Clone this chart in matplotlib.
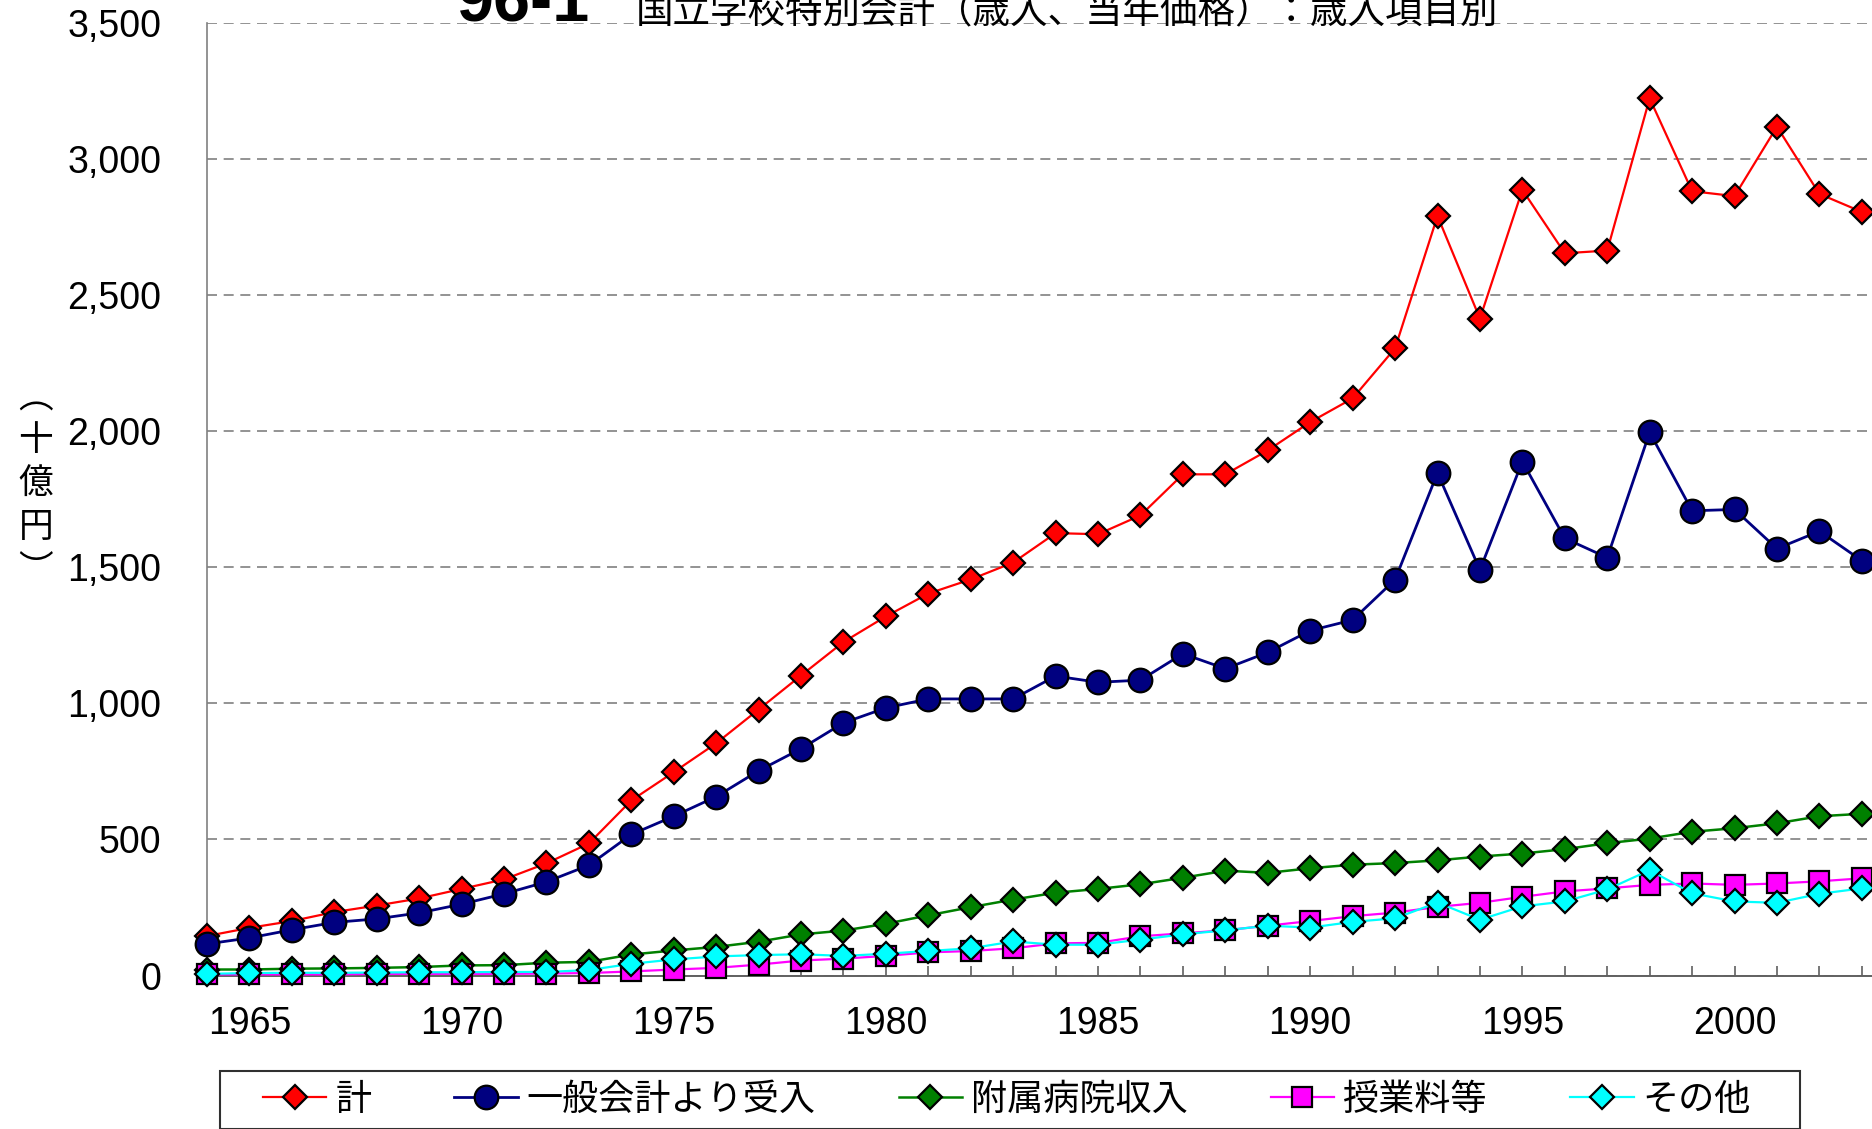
import matplotlib
matplotlib.use("Agg")
import matplotlib.pyplot as plt
from matplotlib.ticker import FuncFormatter, MultipleLocator, FixedLocator
from matplotlib.patches import Rectangle

years = list(range(1964, 2004))
total = [145, 175, 200, 233, 257, 283, 318, 353, 412, 485, 643, 747, 853, 977, 1102, 1225, 1319, 1403, 1455, 1517,
         1625, 1621, 1690, 1841, 1841, 1929, 2033, 2120, 2304, 2790, 2413, 2886, 2653, 2663, 3222, 2881, 2863, 3118, 2871, 2805]
general = [116, 138, 168, 195, 208, 230, 262, 300, 344, 405, 518, 585, 657, 752, 833, 928, 983, 1016, 1016, 1016,
           1100, 1077, 1085, 1182, 1127, 1187, 1267, 1306, 1454, 1846, 1490, 1888, 1606, 1535, 1995, 1707, 1712, 1568, 1632, 1524]
hospital = [22, 22, 25, 26, 28, 31, 37, 38, 47, 50, 77, 92, 105, 124, 151, 165, 190, 221, 251, 279,
            304, 318, 335, 359, 385, 377, 394, 407, 413, 423, 437, 448, 464, 486, 503, 528, 541, 559, 585, 594]
tuition = [4, 4, 4, 4, 6, 6, 6, 6, 7, 9, 15, 22, 28, 40, 55, 62, 72, 85, 90, 100,
           118, 120, 144, 155, 166, 183, 200, 218, 231, 252, 267, 289, 309, 320, 333, 338, 333, 338, 346, 357]
other = [6, 9, 10, 10, 11, 12, 12, 13, 13, 20, 43, 59, 70, 75, 78, 72, 80, 90, 100, 125,
         113, 113, 132, 151, 166, 183, 176, 197, 210, 268, 205, 254, 272, 316, 387, 302, 272, 267, 300, 320]

labels = ["計", "一般会計より受入", "附属病院収入", "授業料等", "その他"]
title_num = "96-1"
title_text = "国立学校特別会計（歳入、当年価格）：歳入項目別"
ylabel = "︵\n十\n億\n円\n︶"
xtick_years = [1965, 1970, 1975, 1980, 1985, 1990, 1995, 2000]

plt.rcParams['font.family'] = ['Liberation Sans', 'Noto Sans CJK JP', 'DejaVu Sans']
cjk = ['Noto Sans CJK JP', 'DejaVu Sans']
narrow = ['Liberation Sans Narrow', 'Liberation Sans', 'DejaVu Sans']

W, H = 1872, 1129
fig = plt.figure(figsize=(W / 100, H / 100), dpi=100)
ax = fig.add_axes([207 / W, 1 - 975.5 / H, 1 - 207 / W, (975.5 - 22.7) / H])

series = [
    (total, "#FF0000", "D", 12, 1.6),
    (general, "#000080", "o", 17, 2.0),
    (hospital, "#008000", "D", 12, 1.8),
    (tuition, "#FF00FF", "s", 14, 1.6),
    (other, "#00FFFF", "D", 12, 1.6),
]
for (vals, col, mk, ms, lw), lab in zip(series, labels):
    ax.plot(years, vals, color=col, lw=lw, marker=mk, markersize=ms,
            markerfacecolor=col, markeredgecolor="black", markeredgewidth=1.6,
            clip_on=False, label=lab, zorder=3)

ax.set_xlim(1964, 2003.24)
ax.set_ylim(0, 3500)
ax.yaxis.set_major_locator(MultipleLocator(500))
ax.yaxis.set_major_formatter(FuncFormatter(lambda v, p: f"{int(v):,}"))
ax.xaxis.set_major_locator(FixedLocator(xtick_years))
ax.xaxis.set_minor_locator(MultipleLocator(1))
ax.grid(axis="y", color="#808080", linestyle=(0, (6, 4)), linewidth=1.2, zorder=1)

for s in ["top", "right"]:
    ax.spines[s].set_visible(False)
ax.spines["left"].set_color("#808080")
ax.spines["bottom"].set_color("#606060")
ax.spines["left"].set_linewidth(1.2)
ax.spines["bottom"].set_linewidth(1.4)

ax.tick_params(axis="y", length=0, pad=33)
ax.tick_params(axis="x", which="both", direction="in", length=7, color="#606060", width=1.2)
ax.tick_params(axis="x", which="major", pad=22)
for t in ax.get_xticklabels() + ax.get_yticklabels():
    t.set_fontfamily(narrow)
    t.set_fontsize(27)

fig.text(36 / W, 1 - 484 / H, ylabel, fontsize=25, family=cjk, ha="center", va="center",
         linespacing=1.3)

fig.text(457 / W, 1 - 22 / H, title_num, fontsize=48, fontweight="bold", ha="left", va="baseline")
fig.text(636 / W, 1 - 22 / H, title_text, fontsize=27, family=cjk, ha="left", va="baseline")

fig.add_artist(Rectangle((220 / W, 0.5 / H), (1800 - 220) / W, (1129 - 1070 - 1) / H,
                         transform=fig.transFigure, fill=False, edgecolor="#303030", lw=1.5))
leg = fig.legend(loc="center left", bbox_to_anchor=(263 / W, 1 - 1100 / H), ncol=5, frameon=False,
                 prop={'family': cjk, 'size': 26},
                 handlelength=1.75, handletextpad=0.25, columnspacing=2.3, borderpad=0.0,
                 borderaxespad=0.0)

fig.savefig("out.png", dpi=100)
